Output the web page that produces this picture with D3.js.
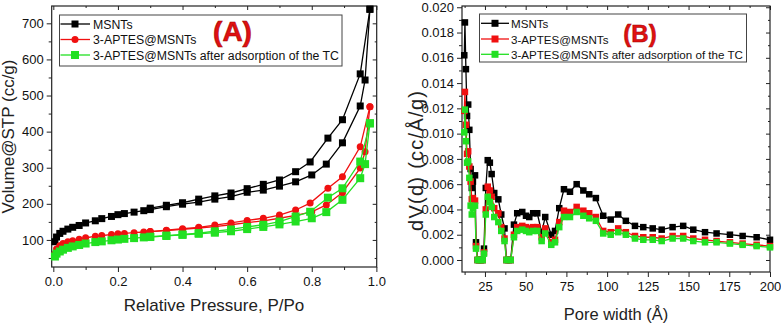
<!DOCTYPE html>
<html>
<head>
<meta charset="utf-8">
<script src="https://cdn.jsdelivr.net/npm/d3@7"></script>
<style>
  body { margin: 0; background: #fff; }
  svg { display: block; font-family: "Liberation Sans", Arial, sans-serif; }
</style>
</head>
<body>
<svg id="chart" width="781" height="323"></svg>
<script>
// ---- panel A: isotherms (adsorption + desorption branches) ----
const pAds = [0.005, 0.01, 0.02, 0.03, 0.045, 0.06, 0.08, 0.1, 0.13, 0.15, 0.18, 0.2, 0.22, 0.25, 0.28, 0.3,
  0.35, 0.4, 0.45, 0.5, 0.55, 0.6, 0.65, 0.7, 0.75, 0.8, 0.845, 0.895, 0.95, 0.965, 0.98];
const msntsAds = [95, 108, 118, 124, 130, 135, 140, 147, 153, 159, 165, 170, 173, 177, 181, 184,
  192, 199, 205, 213, 220, 232, 238, 249, 261, 280, 310, 369, 471, 543, 739];
const aptesAds = [62, 75, 84, 90, 95, 98, 102, 106, 110, 112, 115, 117, 118, 120, 122, 123,
  126, 129, 133, 137, 142, 148, 153, 160, 168, 178, 197, 231, 299, 344, 469];
const tcAds = [54, 62, 68, 73, 78, 82, 86, 90, 94, 96, 99, 101, 103, 105, 107, 108,
  111, 114, 117, 120, 124, 130, 136, 143, 151, 160, 177, 211, 271, 310, 423];

const pDes = [0.98, 0.95, 0.895, 0.85, 0.795, 0.75, 0.7, 0.65, 0.6, 0.55, 0.5, 0.45, 0.4, 0.35, 0.3];
const msntsDes = [739, 560, 433, 382, 316, 289, 266, 254, 242, 230, 222, 213, 203, 196, 188];
const aptesDes = [469, 358, 275, 243, 202, 183, 169, 160, 154, 147, 141, 135, 131, 127, 123];
const tcDes = [423, 317, 243, 217, 178, 165, 151, 142, 136, 129, 124, 119, 115, 112, 109];

// ---- panel B: pore size distribution ----
const poreWidth = [12.3, 12.7, 13.3, 14.0, 14.7, 15.4, 16.2, 16.9, 17.6, 18.9, 19.5, 20.5, 21.5, 22.5, 23.6, 24.4,
  25.5, 26.7, 28.0, 29.1, 30.7, 33.2, 35.0, 37.0, 38.2, 39.5, 40.8, 42.8, 44.8, 47.9, 50.2, 52.2, 54.6, 57.1,
  59.8, 62.0, 65.7, 68.0, 70.6, 73.5, 77.2, 81.3, 85.4, 89.0, 93.1, 97.6, 102.2, 106.8, 111.5, 117.1, 122.2,
  128.0, 133.5, 140.2, 146.7, 152.9, 160.1, 167.2, 175.4, 183.2, 191.8, 200];
const msntsDv = [0.0162, 0.0188, 0.0151, 0.0114, 0.0123, 0.0103, 0.0072, 0.0057, 0.0062, 0.0067,
  0.0014, 0, 0, 0, 0, 0.0009, 0.0057, 0.0079, 0.0077, 0.0068,
  0.0053, 0.0048, 0.0036, 0.0025, 0, 0, 0, 0.0028, 0.0037, 0.0038,
  0.0035, 0.0034, 0.0037, 0.0037, 0.0022, 0.0034, 0.0020, 0.0023, 0.0041, 0.0056,
  0.0054, 0.0060, 0.0055, 0.0052, 0.0049, 0.0035, 0.0032, 0.0036, 0.0031, 0.0027,
  0.0026, 0.0025, 0.0024, 0.0026, 0.0027, 0.0024, 0.0022, 0.0021, 0.0020, 0.0019, 0.0018, 0.0016];
const aptesDv = [0.0118, 0.0133, 0.0107, 0.0084, 0.0086, 0.0074, 0.0062, 0.0048, 0.0049, 0.0047,
  0.0011, 0, 0, 0, 0, 0.0006, 0.0040, 0.0058, 0.0055, 0.0050,
  0.0041, 0.0037, 0.0026, 0.0017, 0, 0, 0, 0.0020, 0.0026, 0.0027,
  0.0026, 0.0025, 0.0026, 0.0026, 0.0018, 0.0025, 0.0014, 0.0016, 0.0030, 0.0039,
  0.0038, 0.0042, 0.0039, 0.0037, 0.0034, 0.0023, 0.0022, 0.0025, 0.0022, 0.0019,
  0.0018, 0.0018, 0.0017, 0.0019, 0.0019, 0.0017, 0.0016, 0.0015, 0.0014, 0.0013, 0.0012, 0.0011];
const tcDv = [0.0101, 0.0119, 0.0094, 0.0077, 0.0078, 0.0065, 0.0043, 0.0036, 0.0041, 0.0043,
  0.0009, 0, 0, 0, 0, 0.0005, 0.0036, 0.0050, 0.0046, 0.0042,
  0.0034, 0.0030, 0.0023, 0.0015, 0, 0, 0, 0.0018, 0.0023, 0.0024,
  0.0023, 0.0022, 0.0023, 0.0023, 0.0015, 0.0021, 0.0012, 0.0014, 0.0026, 0.0034,
  0.0034, 0.0038, 0.0035, 0.0033, 0.0031, 0.0021, 0.0020, 0.0022, 0.0020, 0.0017,
  0.0016, 0.0016, 0.0015, 0.0017, 0.0017, 0.0015, 0.0014, 0.0014, 0.0013, 0.0012, 0.0011, 0.0010];

const seriesNames = ["MSNTs", "3-APTES@MSNTs", "3-APTES@MSNTs after adsorption of the TC"];
const seriesColors = ["#000000", "#f01010", "#22e022"];

const svg = d3.select("#chart");

function drawFrame(g, x, y, xMajor, xMinor, yMajor, yMinor, xFmt, yFmt) {
  const [x0, x1] = x.range();
  const [y0, y1] = y.range();
  // minor ticks
  g.append("g").attr("transform", `translate(0,${y0})`)
    .call(d3.axisBottom(x).tickValues(xMinor).tickSize(3).tickFormat(""));
  g.append("g").attr("transform", `translate(${x0},0)`)
    .call(d3.axisLeft(y).tickValues(yMinor).tickSize(3).tickFormat(""));
  g.append("g").attr("transform", `translate(0,${y1})`)
    .call(d3.axisTop(x).tickValues(xMinor).tickSize(-2).tickFormat(""));
  g.append("g").attr("transform", `translate(${x1},0)`)
    .call(d3.axisRight(y).tickValues(yMinor).tickSize(-2).tickFormat(""));
  // major ticks
  g.append("g").attr("class", "xa").attr("transform", `translate(0,${y0})`)
    .call(d3.axisBottom(x).tickValues(xMajor).tickSize(5).tickPadding(5).tickFormat(xFmt));
  g.append("g").attr("class", "ya").attr("transform", `translate(${x0},0)`)
    .call(d3.axisLeft(y).tickValues(yMajor).tickSize(5).tickPadding(3).tickFormat(yFmt));
  g.append("g").attr("transform", `translate(0,${y1})`)
    .call(d3.axisTop(x).tickValues(xMajor).tickSize(-4).tickFormat(""));
  g.append("g").attr("transform", `translate(${x1},0)`)
    .call(d3.axisRight(y).tickValues(yMajor).tickSize(-4).tickFormat(""));
  g.selectAll(".domain").remove();
  g.selectAll(".tick line").attr("stroke", "#222").attr("stroke-width", 1);
  g.selectAll(".tick text").attr("font-size", 13).attr("fill", "#111")
    .attr("font-family", "Liberation Sans, Arial, sans-serif");
  g.append("rect").attr("x", x0).attr("y", y1).attr("width", x1 - x0).attr("height", y0 - y1)
    .attr("fill", "none").attr("stroke", "#222").attr("stroke-width", 1.2);
}

function marker(sel, shape, size, color) {
  if (shape === "circle") {
    sel.append("circle").attr("r", size / 2).attr("fill", color);
  } else {
    sel.append("rect").attr("x", -size / 2).attr("y", -size / 2)
      .attr("width", size).attr("height", size).attr("fill", color);
  }
}

function drawSeries(g, x, y, xs, ys, color, shape, size) {
  const pts = xs.map((d, i) => [d, ys[i]]);
  g.append("path").datum(pts)
    .attr("fill", "none").attr("stroke", color).attr("stroke-width", 1.3)
    .attr("d", d3.line().x(d => x(d[0])).y(d => y(d[1])));
  g.selectAll(null).data(pts).enter().append("g")
    .attr("transform", d => `translate(${x(d[0])},${y(d[1])})`)
    .each(function() { marker(d3.select(this), shape, size, color); });
}

function drawLegend(g, box, rows, lineX, markerX, textX, shapes, sizes, fontSize) {
  g.append("rect").attr("x", box[0]).attr("y", box[1]).attr("width", box[2]).attr("height", box[3])
    .attr("fill", "#fff").attr("stroke", "#444").attr("stroke-width", 1);
  seriesNames.forEach((name, i) => {
    g.append("line").attr("x1", lineX[0]).attr("x2", lineX[1]).attr("y1", rows[i]).attr("y2", rows[i])
      .attr("stroke", seriesColors[i]).attr("stroke-width", 1.3);
    marker(g.append("g").attr("transform", `translate(${markerX},${rows[i]})`), shapes[i], sizes[i], seriesColors[i]);
    g.append("text").attr("x", textX).attr("y", rows[i] + 4.5).attr("font-size", fontSize)
      .attr("fill", "#111").text(name);
  });
}

// ===== Panel A =====
const gA = svg.append("g");
const xA = d3.scaleLinear().domain([-0.005, 1.001]).range([51.7, 376.7]);
const yA = d3.scaleLinear().domain([25, 748]).range([267, 6]);
drawFrame(gA, xA, yA,
  [0, 0.2, 0.4, 0.6, 0.8, 1.0], [0.1, 0.3, 0.5, 0.7, 0.9],
  [100, 200, 300, 400, 500, 600, 700], [50, 150, 250, 350, 450, 550, 650],
  d3.format(".1f"), d3.format("d"));

const adsA = [msntsAds, aptesAds, tcAds];
const desA = [msntsDes, aptesDes, tcDes];
const shapesA = ["square", "circle", "square"];
const sizesA = [7, 7, 8];
[0, 1, 2].forEach(i => {
  drawSeries(gA, xA, yA, pAds, adsA[i], seriesColors[i], shapesA[i], sizesA[i]);
  drawSeries(gA, xA, yA, pDes, desA[i], seriesColors[i], shapesA[i], sizesA[i]);
});

drawLegend(gA, [59.5, 15, 282.5, 51], [24, 39.5, 55], [60.5, 90], 75, 93, shapesA, [7, 7, 8], 12.3);

gA.append("text").attr("x", 232.5).attr("y", 41).attr("text-anchor", "middle")
  .attr("font-size", 28).attr("font-weight", "bold").attr("fill", "#e01010")
  .attr("stroke", "#a00000").attr("stroke-width", 0.6).text("(A)");

gA.append("text").attr("x", 214).attr("y", 311).attr("text-anchor", "middle")
  .attr("font-size", 17).attr("fill", "#222").text("Relative Pressure, P/Po");
gA.append("text").attr("transform", "translate(13.5,136.5) rotate(-90)").attr("text-anchor", "middle")
  .attr("font-size", 17).attr("fill", "#222").text("Volume@STP (cc/g)");

// ===== Panel B =====
const gB = svg.append("g");
const xB = d3.scaleLinear().domain([10.9, 200]).range([462, 770]);
const yB = d3.scaleLinear().domain([-0.00095, 0.0201]).range([272, 6]);
drawFrame(gB, xB, yB,
  [25, 50, 75, 100, 125, 150, 175, 200], [12.5, 37.5, 62.5, 87.5, 112.5, 137.5, 162.5, 187.5],
  d3.range(0, 0.0201, 0.002), d3.range(0.001, 0.0201, 0.002),
  d3.format("d"), d3.format(".3f"));

const dvB = [msntsDv, aptesDv, tcDv];
[0, 1, 2].forEach(i => {
  drawSeries(gB, xB, yB, poreWidth, dvB[i], seriesColors[i], "square", 6.5);
});

drawLegend(gB, [479.5, 14, 267, 48], [23.3, 39, 54.3], [481, 509], 495, 511,
  ["square", "square", "square"], [7, 7, 7], 11.6);

gB.append("text").attr("x", 640).attr("y", 41.7).attr("text-anchor", "middle")
  .attr("font-size", 24).attr("font-weight", "bold").attr("fill", "#e01010")
  .attr("stroke", "#a00000").attr("stroke-width", 0.5).text("(B)");

gB.append("text").attr("x", 616).attr("y", 320).attr("text-anchor", "middle")
  .attr("font-size", 16.5).attr("fill", "#222").text("Pore width (Å)");
gB.append("text").attr("transform", "translate(423,161) rotate(-90)").attr("text-anchor", "middle")
  .attr("font-size", 20).attr("fill", "#222")
  .attr("textLength", 140).attr("lengthAdjust", "spacing").text("dV(d) (cc/Å/g)");
</script>
</body>
</html>
